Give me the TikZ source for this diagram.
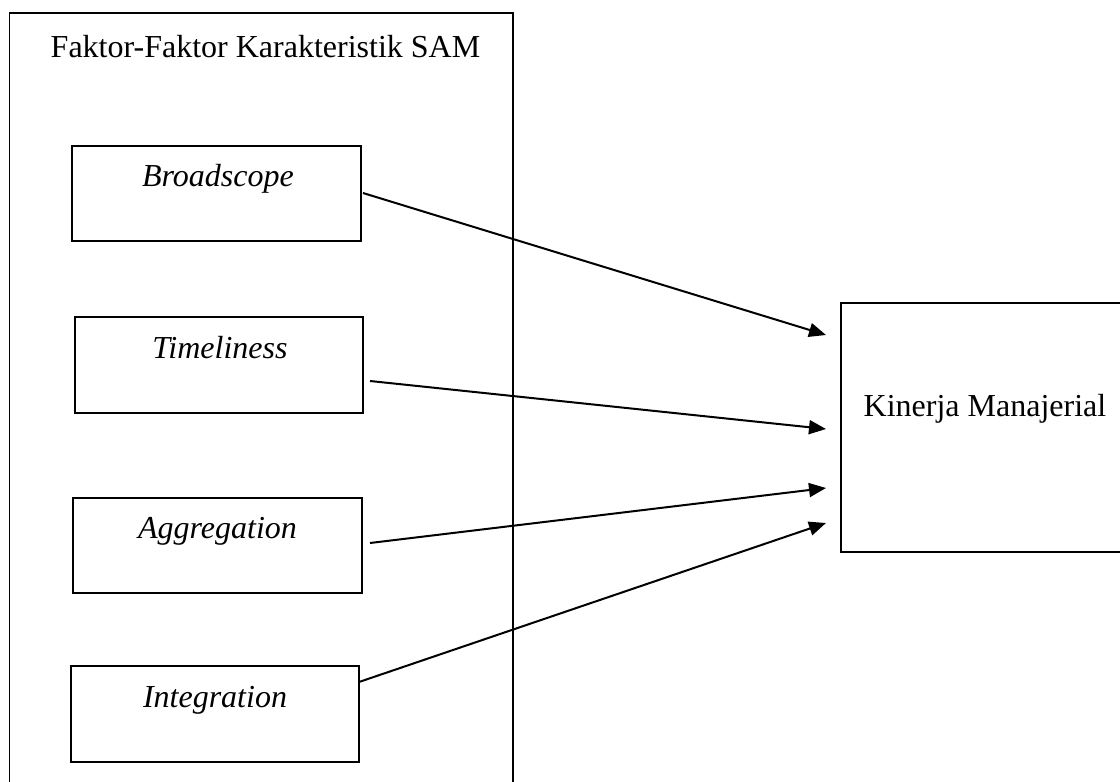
\documentclass[tikz,border=0pt]{standalone}
\usepackage{fontspec}
\setmainfont{Liberation Serif}
\usetikzlibrary{arrows.meta}
\begin{document}
\begin{tikzpicture}[x=1pt,y=-1pt,
  frame/.style={draw=black,line width=1.9pt},
  lbl/.style={anchor=base,inner sep=0pt,font=\fontsize{32}{38}\selectfont},
  ilbl/.style={lbl,font=\fontsize{32}{38}\selectfont\itshape},
  conn/.style={draw=black,line width=2pt,-{Triangle[length=17pt,width=14pt]}}]
\useasboundingbox (0,0) rectangle (1120,782);
\begin{scope}
\clip (0,0) rectangle (1120,782);
\draw[frame] (9.5,13) rectangle (513,800);
\draw[frame] (841,303) rectangle (1135,552);
\end{scope}
\node[lbl] (title) at (265.5,57) {Faktor-Faktor Karakteristik SAM};
\node[frame,minimum width=289pt,minimum height=95pt,inner sep=0pt] (b1) at (216.5,193.5) {};
\node[frame,minimum width=288pt,minimum height=96pt,inner sep=0pt] (b2) at (219,365) {};
\node[frame,minimum width=289pt,minimum height=95pt,inner sep=0pt] (b3) at (217.5,545.5) {};
\node[frame,minimum width=288pt,minimum height=96pt,inner sep=0pt] (b4) at (215,714) {};
\node[ilbl] (t1) at (218,186) {Broadscope};
\node[ilbl] (t2) at (220,358) {Timeliness};
\node[ilbl] (t3) at (217.5,538) {Aggregation};
\node[ilbl] (t4) at (215,707) {Integration};
\node[lbl] (k) at (985,416) {Kinerja Manajerial};
\coordinate (s1) at (363,193);
\coordinate (s2) at (370,381);
\coordinate (s3) at (370,543);
\coordinate (s4) at (359,682);
\coordinate (e1) at (826,335);
\coordinate (e2) at (826,429);
\coordinate (e3) at (826,488);
\coordinate (e4) at (826,523);
\draw[conn] (s1) -- (e1);
\draw[conn] (s2) -- (e2);
\draw[conn] (s3) -- (e3);
\draw[conn] (s4) -- (e4);
\end{tikzpicture}
\end{document}
